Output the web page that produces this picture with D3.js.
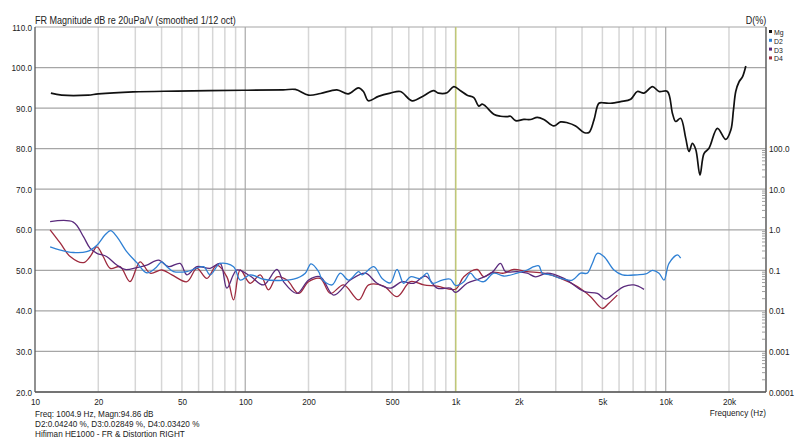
<!DOCTYPE html>
<html>
<head>
<meta charset="utf-8">
<script src="https://cdn.jsdelivr.net/npm/d3@7"></script>
<style>
  body { margin: 0; background: #fff; }
  text { font-family: "Liberation Sans", Arial, sans-serif; fill: #222; }
</style>
</head>
<body>
<svg id="chart"></svg>
<script>
// frequency response, dB
const magFreq = [11.9, 13.4, 17.9, 20, 29.3, 47.3, 97.8, 151.6, 173, 200, 228, 273, 309, 345, 365, 385, 430, 490, 547, 622, 704, 786, 830, 912, 982, 1057, 1137, 1223, 1291, 1340, 1389, 1521, 1637, 1762, 1828, 1932, 2115, 2275, 2449, 2632, 2938, 3162, 3404, 3727, 4083, 4314, 4560, 4813, 5083, 5470, 6107, 6814, 7328, 7886, 8650, 9296, 10190, 10770, 11160, 11780, 12450, 12910, 13400, 13900, 14560, 15210, 16070, 17620, 19310, 20410, 21000, 21540, 22340, 23180, 24050];
const magDb = [93.7, 93.2, 93.2, 93.5, 94.0, 94.2, 94.4, 94.5, 94.6, 93.2, 93.6, 94.5, 93.5, 95.0, 94.1, 91.8, 92.9, 93.7, 94.1, 91.8, 93.0, 94.3, 93.7, 93.8, 95.3, 94.3, 93.2, 92.6, 90.5, 91.0, 90.5, 88.5, 88.0, 87.9, 88.0, 86.9, 87.2, 87.2, 87.7, 87.2, 85.6, 86.6, 86.4, 85.6, 84.0, 84.0, 87.1, 91.2, 91.3, 91.2, 91.6, 92.2, 94.1, 93.7, 95.3, 94.1, 94.1, 88.7, 86.7, 87.5, 82.6, 79.3, 81.3, 79.8, 73.5, 78.8, 80.1, 85.0, 82.3, 84.6, 89.5, 94.1, 96.5, 97.7, 100.4];

// distortion, %
const d2Freq = [11.8, 13.2, 15.2, 17.6, 19.7, 21.5, 22.9, 24.5, 27.3, 30.5, 34.0, 37.3, 40.1, 42.4, 45.6, 52.8, 63.3, 68.1, 76.0, 88.0, 94.7, 105.6, 122.2, 141.5, 169.8, 193.0, 205.5, 223.4, 231.7, 258.8, 283.2, 310.5, 346.4, 359.6, 408.4, 447.9, 490.2, 527.6, 567.4, 610.5, 681.3, 733.0, 774.3, 864.5, 946.7, 1000, 1096, 1178, 1245, 1364, 1521, 1698, 1966, 2194, 2361, 2494, 2588, 2834, 3162, 3595, 3936, 4236, 4476, 4729, 5083, 5675, 6222, 7328, 8035, 8650, 9296, 9820, 10370, 11370, 11780];
const d2Pct = [0.380, 0.316, 0.275, 0.288, 0.417, 0.741, 0.955, 0.676, 0.288, 0.155, 0.0871, 0.112, 0.162, 0.123, 0.0933, 0.0933, 0.123, 0.0776, 0.148, 0.123, 0.0575, 0.0776, 0.0603, 0.0562, 0.0603, 0.0851, 0.145, 0.0933, 0.0603, 0.0437, 0.0851, 0.0575, 0.0933, 0.0776, 0.123, 0.0631, 0.0490, 0.105, 0.0479, 0.0692, 0.0631, 0.0851, 0.0479, 0.0575, 0.0603, 0.0424, 0.0525, 0.0851, 0.0631, 0.0525, 0.0851, 0.0724, 0.0851, 0.102, 0.123, 0.129, 0.0851, 0.0776, 0.0631, 0.0575, 0.0851, 0.0851, 0.148, 0.263, 0.219, 0.102, 0.0776, 0.0776, 0.0813, 0.100, 0.0851, 0.0575, 0.148, 0.240, 0.200];

const d3Freq = [11.8, 15.2, 17.0, 18.3, 19.7, 21.9, 24.5, 26.8, 30.5, 34.0, 38.7, 43.2, 49.0, 52.8, 58.9, 68.1, 76.0, 81.8, 91.3, 105.6, 122.2, 141.5, 152.1, 176.2, 200.1, 227.6, 263.3, 316.2, 372.8, 423.8, 490.2, 557.5, 632.6, 719.7, 818.2, 946.7, 1000, 1136, 1315, 1495, 1637, 1730, 1966, 2194, 2404, 2733, 3281, 4083, 4729, 5180, 5675, 6324, 7063, 7886];
const d3Pct = [1.585, 1.549, 0.676, 0.347, 0.263, 0.219, 0.135, 0.105, 0.117, 0.135, 0.178, 0.123, 0.148, 0.0776, 0.123, 0.112, 0.148, 0.0363, 0.102, 0.0724, 0.0437, 0.105, 0.0525, 0.0269, 0.0575, 0.0692, 0.0245, 0.0575, 0.0851, 0.0479, 0.0363, 0.0525, 0.0479, 0.0724, 0.0363, 0.0363, 0.0285, 0.0479, 0.0631, 0.0891, 0.148, 0.0933, 0.0933, 0.0851, 0.0692, 0.0851, 0.0631, 0.0302, 0.0269, 0.0195, 0.0269, 0.0398, 0.0437, 0.0339];

const d4Freq = [11.8, 13.2, 14.7, 17.0, 18.3, 19.7, 21.1, 22.8, 25.4, 28.3, 31.6, 35.3, 40.1, 44.8, 52.8, 58.9, 65.7, 73.3, 81.8, 88.0, 94.7, 105.6, 117.9, 129.0, 141.5, 158.0, 179.4, 200.1, 227.6, 254.1, 293.8, 346.4, 386.5, 455.8, 527.6, 610.5, 706.5, 818.2, 1000, 1096, 1268, 1364, 1495, 1698, 1895, 2194, 2632, 3162, 3801, 4394, 5000, 5370, 5888];
const d4Pct = [1.0, 0.468, 0.219, 0.155, 0.219, 0.380, 0.219, 0.112, 0.123, 0.0525, 0.162, 0.0851, 0.102, 0.0776, 0.0525, 0.112, 0.0631, 0.135, 0.0692, 0.0186, 0.102, 0.0479, 0.0776, 0.0331, 0.0692, 0.0575, 0.0269, 0.0525, 0.0631, 0.0269, 0.0437, 0.0186, 0.0437, 0.0407, 0.0224, 0.0525, 0.0437, 0.0407, 0.0342, 0.0692, 0.105, 0.0692, 0.0891, 0.0851, 0.105, 0.0933, 0.0851, 0.0631, 0.0398, 0.0224, 0.0115, 0.0155, 0.0245];

const xTicks = [10, 20, 50, 100, 200, 500, 1000, 2000, 5000, 10000, 20000];
const xTickLabels = ['10', '20', '50', '100', '200', '500', '1k', '2k', '5k', '10k', '20k'];
const dbTicks = [20, 30, 40, 50, 60, 70, 80, 90, 100, 110];
const pctTicks = [0.0001, 0.001, 0.01, 0.1, 1, 10, 100];
const pctTickLabels = ['0.0001', '0.001', '0.01', '0.1', '1.0', '10.0', '100.0'];
const cursorFreq = 1004.9;

const seriesNames = ['Mg', 'D2', 'D3', 'D4'];
const seriesColors = ['#111111', '#2f80d4', '#5a2a7c', '#9e2a3e'];

const W = 800, H = 440;
const margin = {left: 35, right: 34, top: 27, bottom: 48};
const pw = W - margin.left - margin.right;
const ph = H - margin.top - margin.bottom;
const squeeze = 0.86;  // the REW export text is narrower than Liberation Sans

const svg = d3.select('#chart').attr('width', W).attr('height', H);
svg.append('rect').attr('width', W).attr('height', H).attr('fill', '#fff');
const g = svg.append('g').attr('transform', `translate(${margin.left}, ${margin.top})`);

const x = d3.scaleLog().domain([10, 30000]).range([0, pw]);
const y = d3.scaleLinear().domain([20, 110]).range([ph, 0]);
const yPct = d3.scaleLog().domain([0.0001, 100000]).range([ph, 0]);

// minor vertical grid
const minorFreqs = [];
[10, 100, 1000, 10000].forEach(dec => {
  for (let k = 2; k <= 9; k++) if (dec * k <= 30000) minorFreqs.push(dec * k);
});
g.selectAll('.vminor').data(minorFreqs).enter().append('line')
  .attr('x1', d => x(d)).attr('x2', d => x(d))
  .attr('y1', 0).attr('y2', ph)
  .attr('stroke', '#d6d6d6').attr('stroke-width', 1.5);
g.selectAll('.vmajor').data([100, 1000, 10000]).enter().append('line')
  .attr('x1', d => x(d)).attr('x2', d => x(d))
  .attr('y1', 0).attr('y2', ph)
  .attr('stroke', '#a8a8a8').attr('stroke-width', 1.2);
g.selectAll('.hgrid').data(dbTicks).enter().append('line')
  .attr('x1', 0).attr('x2', pw)
  .attr('y1', d => y(d)).attr('y2', d => y(d))
  .attr('stroke', '#a6a6a6').attr('stroke-width', 1.2);

// cursor
g.append('line')
  .attr('x1', x(cursorFreq)).attr('x2', x(cursorFreq))
  .attr('y1', 0).attr('y2', ph)
  .attr('stroke', '#c9d36a').attr('stroke-width', 1.2);

// frame
g.append('line').attr('x1', 0).attr('x2', 0).attr('y1', 0).attr('y2', ph).attr('stroke', '#555').attr('stroke-width', 1.3);
g.append('line').attr('x1', 0).attr('x2', pw).attr('y1', ph).attr('y2', ph).attr('stroke', '#555').attr('stroke-width', 1.3);
g.append('line').attr('x1', pw).attr('x2', pw).attr('y1', 0).attr('y2', ph).attr('stroke', '#555').attr('stroke-width', 1.3);

// left axis
const yAxis = d3.axisLeft(y).tickValues(dbTicks).tickSize(0).tickPadding(3).tickFormat(d3.format('.1f'));
g.append('g').call(yAxis).call(a => a.select('.domain').remove())
  .selectAll('text').style('font-size', '9.5px').attr('fill', '#222');

// right axis, log %
const minorPct = [];
for (let e = -4; e < 2; e++) {
  for (let k = 2; k <= 9; k++) minorPct.push(k * Math.pow(10, e));
}
g.selectAll('.rminor').data(minorPct).enter().append('line')
  .attr('x1', pw - 4).attr('x2', pw)
  .attr('y1', d => yPct(d)).attr('y2', d => yPct(d))
  .attr('stroke', '#888').attr('stroke-width', 0.8);
const yAxisR = d3.axisRight(yPct).tickValues(pctTicks).tickSize(0).tickPadding(3)
  .tickFormat((d, i) => pctTickLabels[i]);
g.append('g').attr('transform', `translate(${pw}, 0)`).call(yAxisR)
  .call(a => a.select('.domain').remove())
  .selectAll('text').style('font-size', '9.5px').attr('fill', '#222');

// bottom axis
const xAxis = d3.axisBottom(x).tickValues(xTicks).tickSize(0).tickPadding(6)
  .tickFormat((d, i) => xTickLabels[i]);
g.append('g').attr('transform', `translate(0, ${ph})`).call(xAxis)
  .call(a => a.select('.domain').remove())
  .selectAll('text').style('font-size', '9.5px').attr('fill', '#222');

// curves
const magLine = d3.line().x(d => x(d[0])).y(d => y(d[1])).curve(d3.curveCatmullRom.alpha(0.5));
const pctLine = d3.line().x(d => x(d[0])).y(d => yPct(d[1])).curve(d3.curveCatmullRom.alpha(0.5));

const distSeries = [
  {f: d4Freq, v: d4Pct, color: seriesColors[3]},
  {f: d3Freq, v: d3Pct, color: seriesColors[2]},
  {f: d2Freq, v: d2Pct, color: seriesColors[1]}
];
distSeries.forEach(s => {
  g.append('path')
    .datum(s.f.map((f, i) => [f, s.v[i]]))
    .attr('d', pctLine)
    .attr('fill', 'none')
    .attr('stroke', s.color)
    .attr('stroke-width', 1.3);
});

g.append('path')
  .datum(magFreq.map((f, i) => [f, magDb[i]]))
  .attr('d', magLine)
  .attr('fill', 'none')
  .attr('stroke', seriesColors[0])
  .attr('stroke-width', 1.7);

// titles
svg.append('text').attr('x', margin.left).attr('y', 24)
  .style('font-size', '10.5px').text('FR Magnitude dB re 20uPa/V (smoothed 1/12 oct)');
svg.append('text').attr('x', margin.left + pw - 10).attr('y', 24).attr('text-anchor', 'middle')
  .style('font-size', '10.5px').text('D(%)');

// legend
const legend = svg.append('g').attr('transform', `translate(${margin.left + pw + 3}, 32)`);
seriesNames.forEach((name, i) => {
  legend.append('rect').attr('x', 0).attr('y', i * 8.8 - 2).attr('width', 3).attr('height', 3)
    .attr('fill', seriesColors[i]);
  legend.append('text').attr('x', 5).attr('y', i * 8.8 + 3).style('font-size', '8px').text(name);
});

// footer
svg.append('text').attr('x', margin.left + pw).attr('y', 416).attr('text-anchor', 'end')
  .style('font-size', '9.5px').text('Frequency (Hz)');
const footer = [
  'Freq: 1004.9 Hz, Magn:94.86 dB',
  'D2:0.04240 %, D3:0.02849 %, D4:0.03420 %',
  'Hifiman HE1000 - FR & Distortion RIGHT'
];
footer.forEach((t, i) => {
  svg.append('text').attr('x', margin.left).attr('y', 416.5 + i * 10.3)
    .style('font-size', '9.5px').text(t);
});

// condense all labels to the narrower look of the original
svg.selectAll('text').each(function() {
  const len = this.getComputedTextLength();
  d3.select(this).attr('textLength', len * squeeze).attr('lengthAdjust', 'spacingAndGlyphs');
});
</script>
</body>
</html>
